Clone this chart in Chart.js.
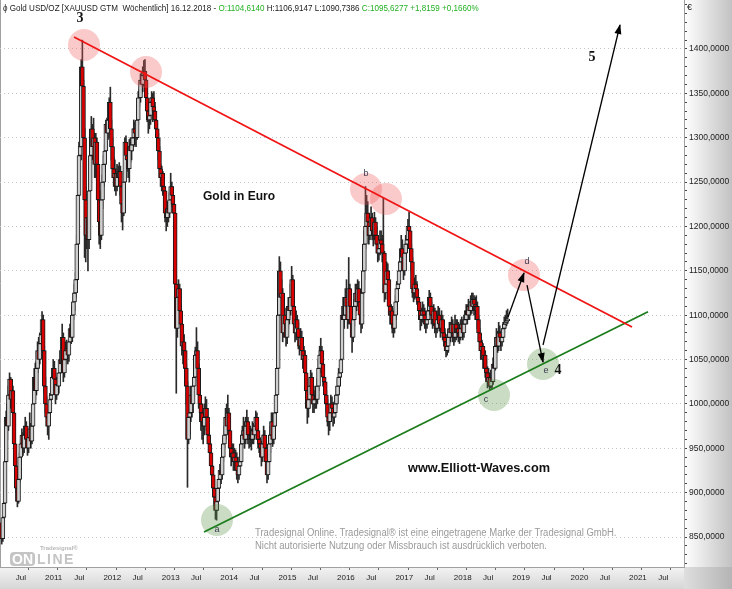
<!DOCTYPE html>
<html>
<head>
<meta charset="utf-8">
<title>Gold in Euro</title>
<script src="https://cdn.jsdelivr.net/npm/chart.js@4.4.1/dist/chart.umd.min.js"></script>
<style>
  body { margin: 0; background: #fff; }
  #wrap { position: relative; width: 732px; height: 589px; overflow: hidden; font-family: "Liberation Sans", Arial, sans-serif; }
  #chart { position: absolute; left: 0; top: 0; }
  .txt { position: absolute; white-space: nowrap; line-height: 1; }
  #title { left: 3px; top: 3px; font-size: 9.5px; color: #1a1a1a; transform: scaleX(0.85); transform-origin: 0 0; }
  #title .g { color: #22b022; }
  #euro { left: 687px; top: 3px; font-size: 9px; color: #222; }
  #gold { left: 203px; top: 190px; font-size: 12.5px; font-weight: bold; color: #111; transform: scaleX(0.96); transform-origin: 0 0; }
  #site { left: 408px; top: 461px; font-size: 13px; font-weight: bold; color: #111; transform: scaleX(0.98); transform-origin: 0 0; }
  #legal { left: 255px; top: 526px; font-size: 10px; color: #9a9a9a; line-height: 13px; transform: scaleX(0.95); transform-origin: 0 0; }
  #logo { left: 10px; top: 545px; width: 72px; height: 22px; }
  #logo .ts { position: absolute; left: 30px; top: 0; font-size: 6px; font-weight: bold; color: #b8b8b8; }
  #logo .on { position: absolute; left: 0; top: 7px; width: 25px; text-align: center; height: 14px; border-radius: 4px; background: #c4c4c4; color: #fff; font-size: 14px; font-weight: bold; line-height: 14px; }
  #logo .line { position: absolute; left: 27px; top: 7px; font-size: 14px; font-weight: bold; color: #c4c4c4; line-height: 14px; letter-spacing: 1.5px; }
</style>
</head>
<body>
<div id="wrap">
  <canvas id="chart" width="732" height="589"></canvas>
  <div class="txt" id="title">&#981; Gold USD/OZ [XAUUSD GTM&nbsp; W&ouml;chentlich] 16.12.2018 - <span class="g">O:1104,6140</span> H:1106,9147 L:1090,7386 <span class="g">C:1095,6277 +1,8159 +0,1660%</span></div>
  <div class="txt" id="euro">&euro;</div>
  <div class="txt" id="gold">Gold in Euro</div>
  <div class="txt" id="site">www.Elliott-Waves.com</div>
  <div class="txt" id="legal">Tradesignal Online. Tradesignal&reg; ist eine eingetragene Marke der Tradesignal GmbH.<br>Nicht autorisierte Nutzung oder Missbrauch ist ausdr&uuml;cklich verboten.</div>
  <div class="txt" id="logo"><span class="ts">Tradesignal&reg;</span><span class="on">ON</span><span class="line">LINE</span></div>
</div>
<script>
// weekly candles, first week starting 18.04.2010, one value per week (10 per line)
const firstWeek = Date.UTC(2010, 3, 18);
const firstOpen = 866;

const closes = [
  848, 872, 888, 935, 985, 975, 1010, 1028, 1005, 1015,
  990, 955, 930, 905, 890, 915, 940, 955, 965, 950,
  965, 975, 960, 950, 962, 972, 958, 975, 1000, 1030,
  1015, 1040, 1060, 1050, 1068, 1078, 1095, 1060, 1020, 1000,
  985, 975, 990, 1005, 1010, 1030, 1040, 1028, 1010, 1022,
  1020, 1035, 1050, 1045, 1075, 1035, 1050, 1060, 1062, 1055,
  1070, 1085, 1075, 1100, 1115, 1125, 1140, 1180, 1235, 1280,
  1290, 1380, 1358, 1300, 1230, 1190, 1210, 1185, 1240, 1280,
  1310, 1290, 1300, 1270, 1295, 1270, 1230, 1205, 1190, 1230,
  1250, 1270, 1285, 1315, 1305, 1320, 1340, 1310, 1290, 1265,
  1255, 1260, 1245, 1260, 1255, 1262, 1245, 1225, 1215, 1250,
  1295, 1280, 1275, 1265, 1290, 1285, 1292, 1300, 1310, 1305,
  1300, 1320, 1345, 1345, 1365, 1360, 1370, 1375, 1365, 1345,
  1330, 1320, 1325, 1340, 1345, 1335, 1330, 1320, 1310, 1300,
  1285, 1265, 1255, 1260, 1245, 1240, 1215, 1210, 1220, 1215,
  1230, 1245, 1235, 1225, 1215, 1135, 1085, 1120, 1130, 1105,
  1090, 1065, 1070, 1060, 1040, 1020, 960, 985, 990, 1010,
  1000, 1020, 1030, 1055, 1060, 1040, 1010, 1000, 990, 980,
  975, 985, 995, 985, 965, 955, 945, 930, 920, 905,
  895, 880, 890, 905, 915, 925, 920, 940, 955, 965,
  985, 975, 990, 970, 950, 940, 945, 935, 940, 935,
  925, 920, 930, 935, 955, 965, 970, 960, 975, 980,
  965, 960, 965, 960, 970, 965, 975, 985, 970, 960,
  955, 950, 940, 955, 965, 950, 935, 920, 935, 955,
  965, 980, 960, 975, 990, 1010, 1040, 1100, 1150, 1120,
  1125, 1080, 1100, 1090, 1075, 1095, 1110, 1105, 1120, 1140,
  1110, 1090, 1080, 1095, 1085, 1075, 1065, 1075, 1060, 1050,
  1055, 1035, 1015, 995, 1005, 1020, 1030, 1010, 1000, 1005,
  1010, 1005, 1020, 1040, 1055, 1060, 1045, 1030, 1025, 1010,
  1000, 985, 980, 990, 1000, 995, 985, 990, 1000, 1010,
  1020, 1030, 1035, 1050, 1100, 1095, 1100, 1120, 1110, 1095,
  1130, 1110, 1090, 1075, 1095, 1110, 1125, 1115, 1130, 1115,
  1100, 1090, 1125, 1150, 1180, 1200, 1215, 1205, 1190, 1200,
  1210, 1195, 1190, 1205, 1190, 1180, 1170, 1175, 1185, 1180,
  1170, 1170, 1125, 1135, 1150, 1140, 1110, 1100, 1105, 1090,
  1085, 1100, 1115, 1130, 1135, 1150, 1160, 1175, 1165, 1150,
  1170, 1180, 1185, 1200, 1195, 1175, 1160, 1130, 1125, 1135,
  1130, 1120, 1115, 1105, 1095, 1100, 1105, 1100, 1095, 1090,
  1095, 1105, 1120, 1110, 1100, 1095, 1105, 1090, 1085, 1095,
  1100, 1090, 1085, 1095, 1080, 1075, 1070, 1060, 1065, 1075,
  1085, 1080, 1090, 1080, 1075, 1090, 1080, 1085, 1080, 1075,
  1085, 1090, 1080, 1090, 1095, 1105, 1100, 1110, 1105, 1115,
  1110, 1118, 1112, 1105, 1110, 1095, 1080, 1070, 1060, 1065,
  1050, 1055, 1040, 1035, 1025, 1030, 1020, 1030, 1025, 1045,
  1040, 1065, 1075, 1065, 1080, 1075, 1070, 1075, 1085, 1090,
  1092, 1093.8, 1095.6
];

const highs = [
  868, 876, 892, 940, 992, 1000, 1020, 1035, 1030, 1025,
  1020, 995, 960, 935, 912, 920, 945, 960, 972, 968,
  975, 985, 980, 965, 970, 990, 978, 982, 1008, 1040,
  1046, 1048, 1070, 1075, 1080, 1090, 1104, 1100, 1065, 1030,
  1008, 995, 998, 1012, 1020, 1038, 1050, 1048, 1035, 1030,
  1032, 1042, 1060, 1058, 1090, 1080, 1058, 1070, 1072, 1068,
  1078, 1090, 1092, 1110, 1125, 1135, 1148, 1190, 1250, 1295,
  1330, 1388, 1410, 1365, 1310, 1245, 1225, 1220, 1250, 1290,
  1324, 1315, 1322, 1305, 1305, 1300, 1275, 1240, 1215, 1240,
  1258, 1280, 1292, 1320, 1322, 1330, 1345, 1357, 1320, 1300,
  1278, 1275, 1265, 1270, 1268, 1272, 1268, 1250, 1230, 1260,
  1300, 1302, 1292, 1285, 1298, 1300, 1300, 1310, 1320, 1318,
  1315, 1328, 1352, 1355, 1372, 1375, 1380, 1387, 1388, 1372,
  1352, 1338, 1335, 1345, 1352, 1350, 1352, 1340, 1328, 1318,
  1305, 1290, 1270, 1268, 1262, 1255, 1245, 1225, 1228, 1228,
  1238, 1260, 1250, 1245, 1235, 1220, 1140, 1130, 1140, 1135,
  1112, 1095, 1082, 1078, 1065, 1045, 1025, 995, 1000, 1020,
  1015, 1030, 1040, 1064, 1086, 1070, 1045, 1015, 1005, 1000,
  990, 1000, 1008, 1005, 995, 975, 965, 955, 940, 930,
  915, 905, 898, 912, 925, 932, 935, 948, 962, 975,
  995, 1000, 1010, 995, 978, 960, 955, 955, 950, 948,
  945, 935, 940, 945, 965, 975, 985, 980, 985, 993,
  985, 972, 975, 972, 980, 978, 985, 992, 990, 978,
  968, 962, 958, 965, 975, 970, 955, 940, 945, 965,
  975, 990, 990, 985, 1000, 1020, 1048, 1110, 1166, 1160,
  1140, 1130, 1112, 1108, 1095, 1105, 1120, 1118, 1135, 1155,
  1145, 1118, 1100, 1105, 1100, 1092, 1082, 1085, 1082, 1068,
  1065, 1060, 1040, 1020, 1012, 1030, 1038, 1035, 1018, 1015,
  1020, 1018, 1028, 1050, 1065, 1074, 1065, 1050, 1040, 1030,
  1015, 1005, 995, 1000, 1010, 1008, 1002, 1000, 1010, 1020,
  1028, 1040, 1045, 1058, 1110, 1120, 1110, 1130, 1140, 1120,
  1165, 1135, 1118, 1095, 1105, 1118, 1135, 1135, 1140, 1138,
  1125, 1108, 1135, 1160, 1195, 1245, 1235, 1228, 1215, 1210,
  1222, 1215, 1205, 1216, 1210, 1200, 1185, 1185, 1195, 1195,
  1190, 1232, 1172, 1145, 1160, 1158, 1150, 1118, 1112, 1110,
  1100, 1108, 1122, 1138, 1145, 1160, 1170, 1190, 1185, 1172,
  1180, 1190, 1195, 1208, 1216, 1200, 1180, 1165, 1140, 1142,
  1145, 1138, 1128, 1120, 1110, 1108, 1115, 1112, 1108, 1102,
  1105, 1112, 1128, 1125, 1115, 1108, 1112, 1108, 1098, 1105,
  1110, 1108, 1100, 1105, 1100, 1090, 1085, 1078, 1075, 1082,
  1092, 1092, 1098, 1095, 1088, 1100, 1095, 1095, 1092, 1090,
  1095, 1098, 1095, 1100, 1105, 1112, 1112, 1118, 1115, 1122,
  1125, 1125, 1122, 1120, 1122, 1115, 1100, 1085, 1078, 1072,
  1068, 1062, 1060, 1050, 1042, 1040, 1035, 1038, 1040, 1052,
  1055, 1075, 1085, 1082, 1092, 1088, 1082, 1085, 1092, 1098,
  1100, 1105, 1106.9
];

const lows = [
  842, 845, 866, 885, 930, 960, 970, 1000, 995, 1000,
  985, 948, 925, 900, 884, 888, 912, 935, 948, 942,
  945, 960, 952, 942, 945, 958, 950, 955, 970, 995,
  1005, 1010, 1035, 1040, 1045, 1060, 1070, 1050, 1012, 990,
  975, 965, 960, 985, 995, 1005, 1025, 1015, 1000, 1005,
  1010, 1012, 1030, 1035, 1040, 1025, 1030, 1045, 1050, 1045,
  1048, 1060, 1068, 1070, 1095, 1105, 1120, 1135, 1170, 1225,
  1240, 1275, 1345, 1290, 1165, 1160, 1175, 1150, 1175, 1230,
  1270, 1275, 1280, 1255, 1255, 1262, 1215, 1180, 1175, 1185,
  1220, 1245, 1262, 1280, 1290, 1298, 1310, 1300, 1275, 1255,
  1245, 1240, 1235, 1240, 1245, 1250, 1235, 1205, 1196, 1212,
  1245, 1265, 1262, 1255, 1250, 1272, 1275, 1285, 1290, 1292,
  1290, 1298, 1315, 1335, 1340, 1350, 1352, 1358, 1352, 1340,
  1318, 1305, 1310, 1315, 1330, 1318, 1320, 1310, 1300, 1290,
  1275, 1255, 1245, 1240, 1235, 1230, 1205, 1195, 1200, 1205,
  1210, 1222, 1225, 1215, 1205, 1130, 1012, 1075, 1100, 1095,
  1075, 1055, 1045, 1040, 1020, 1000, 906, 955, 965, 980,
  985, 990, 1010, 1025, 1045, 1030, 995, 980, 970, 960,
  955, 965, 975, 970, 955, 945, 935, 920, 910, 895,
  885, 870, 869, 880, 895, 905, 910, 915, 935, 950,
  960, 965, 970, 960, 945, 930, 935, 925, 925, 925,
  915, 911, 915, 920, 930, 950, 960, 950, 955, 965,
  955, 950, 952, 948, 955, 955, 960, 965, 960, 950,
  945, 940, 930, 935, 945, 940, 925, 911, 915, 930,
  945, 960, 952, 955, 970, 985, 1000, 1035, 1095, 1110,
  1105, 1070, 1075, 1078, 1065, 1068, 1085, 1090, 1100, 1110,
  1100, 1080, 1070, 1072, 1075, 1062, 1055, 1060, 1050, 1040,
  1042, 1025, 1005, 978, 985, 995, 1010, 1000, 990, 990,
  995, 995, 1000, 1015, 1035, 1045, 1035, 1020, 1015, 1000,
  990, 975, 965, 970, 980, 985, 975, 978, 985, 995,
  1000, 1010, 1020, 1030, 1050, 1085, 1085, 1095, 1100, 1085,
  1090, 1098, 1080, 1058, 1070, 1088, 1100, 1105, 1110, 1105,
  1090, 1080, 1085, 1120, 1140, 1175, 1190, 1190, 1180, 1185,
  1192, 1185, 1178, 1185, 1180, 1170, 1160, 1162, 1168, 1170,
  1160, 1150, 1115, 1118, 1128, 1130, 1100, 1090, 1090, 1080,
  1075, 1080, 1095, 1110, 1120, 1130, 1145, 1150, 1155, 1140,
  1145, 1165, 1172, 1180, 1185, 1165, 1150, 1120, 1115, 1118,
  1120, 1112, 1105, 1095, 1083, 1088, 1092, 1090, 1085, 1080,
  1085, 1090, 1100, 1100, 1090, 1085, 1088, 1080, 1075, 1080,
  1088, 1082, 1075, 1080, 1072, 1065, 1062, 1053, 1055, 1058,
  1068, 1070, 1075, 1070, 1066, 1070, 1072, 1075, 1070, 1068,
  1072, 1078, 1072, 1075, 1082, 1090, 1090, 1095, 1095, 1100,
  1102, 1105, 1100, 1095, 1098, 1085, 1070, 1060, 1050, 1052,
  1040, 1040, 1030, 1025, 1018, 1020, 1016, 1018, 1017, 1022,
  1032, 1038, 1062, 1058, 1060, 1065, 1060, 1065, 1070, 1080,
  1085, 1088, 1090.7
];

// time axis (decimal years) and its labels
const xMin = 2010.2637;
const xMax = 2021.976;
const axisTicks = [2010.5, 2011, 2011.5, 2012, 2012.5, 2013, 2013.5, 2014, 2014.5, 2015, 2015.5,
  2016, 2016.5, 2017, 2017.5, 2018, 2018.5, 2019, 2019.5, 2020, 2020.5, 2021, 2021.5];
const axisLabels = ['Jul', '2011', 'Jul', '2012', 'Jul', '2013', 'Jul', '2014', 'Jul', '2015', 'Jul',
  '2016', 'Jul', '2017', 'Jul', '2018', 'Jul', '2019', 'Jul', '2020', 'Jul', '2021', 'Jul'];
const yMin = 816.2;
const yMax = 1455.2;

// drawn analysis: trend lines, arrows, marker circles, wave labels  [year, price]
const resistanceLine = [[2011.531, 1413.5], [2021.086, 1086.7]];
const supportLine = [[2013.757, 855.6], [2021.360, 1103.8]];
const arrowUpToD = [[2018.963, 1097.9], [2019.236, 1147.5]];
const arrowDownToE = [[2019.288, 1134.0], [2019.562, 1047.2]];
const arrowWave5 = [[2019.562, 1066.4], [2020.880, 1427.0]];
const redMarks = [[2011.702, 1404.5], [2012.764, 1374.1], [2016.531, 1242.2], [2016.873, 1230.9], [2019.236, 1145.3]];
const greenMarks = [[2013.979, 869.2], [2018.723, 1010.0], [2019.562, 1045.0]];
const waveNames = ['3', '5', '4', 'a', 'b', 'c', 'd', 'e'];
const waveX = [2011.634, 2020.401, 2019.818, 2013.979, 2016.531, 2018.586, 2019.288, 2019.613];
const waveY = [1434.9, 1391.0, 1038.2, 859.0, 1260.2, 1004.4, 1161.0, 1037.1];

function toYear(ms) {
    const y = new Date(ms).getUTCFullYear();
    const a = Date.UTC(y, 0, 1), b = Date.UTC(y + 1, 0, 1);
    return y + (ms - a) / (b - a);
}

const weekX = closes.map((c, i) => toYear(firstWeek + i * 7 * 86400000));
const opens = closes.map((c, i) => i === 0 ? firstOpen : closes[i - 1]);
const pts = arr => arr.map(p => ({ x: p[0], y: p[1] }));

const panelPlugin = {
    id: 'panels',
    beforeDraw(chart) {
        const { ctx, chartArea: a, width, height } = chart;
        ctx.save();
        let g = ctx.createLinearGradient(a.right, 0, width, 0);
        g.addColorStop(0, '#ffffff');
        g.addColorStop(1, '#c2c2c2');
        ctx.fillStyle = g;
        ctx.fillRect(a.right, 0, width - a.right, a.bottom);
        g = ctx.createLinearGradient(0, a.bottom, 0, height);
        g.addColorStop(0, '#f3f3f3');
        g.addColorStop(1, '#d6d6d6');
        ctx.fillStyle = g;
        ctx.fillRect(0, a.bottom, a.right, height - a.bottom);
        g = ctx.createLinearGradient(a.right, 0, width, 0);
        g.addColorStop(0, '#dedede');
        g.addColorStop(1, '#b4b4b4');
        ctx.fillStyle = g;
        ctx.fillRect(a.right, a.bottom, width - a.right, height - a.bottom);
        ctx.strokeStyle = '#a0a0a0';
        ctx.lineWidth = 1;
        ctx.beginPath();
        ctx.moveTo(0.5, 0);
        ctx.lineTo(0.5, a.bottom);
        ctx.stroke();
        ctx.restore();
    }
};

const arrowPlugin = {
    id: 'arrowHeads',
    afterDatasetsDraw(chart) {
        const ctx = chart.ctx;
        chart.data.datasets.forEach((ds, i) => {
            if (!ds.arrow) return;
            const p = chart.getDatasetMeta(i).data;
            const a = p[p.length - 2], b = p[p.length - 1];
            const ang = Math.atan2(b.y - a.y, b.x - a.x);
            ctx.save();
            ctx.translate(b.x, b.y);
            ctx.rotate(ang);
            ctx.fillStyle = '#000';
            ctx.beginPath();
            ctx.moveTo(1, 0);
            ctx.lineTo(-9, -3.5);
            ctx.lineTo(-9, 3.5);
            ctx.closePath();
            ctx.fill();
            ctx.restore();
        });
    }
};

const wavePlugin = {
    id: 'waveLabels',
    afterDatasetsDraw(chart) {
        const { ctx, scales: { x, y } } = chart;
        ctx.save();
        ctx.textAlign = 'center';
        ctx.textBaseline = 'middle';
        waveNames.forEach((name, i) => {
            const big = /[0-9]/.test(name);
            ctx.font = big ? 'bold 14px "Liberation Serif", serif' : '9px "Liberation Sans", sans-serif';
            ctx.fillStyle = big ? '#111' : '#3a3a50';
            ctx.fillText(name, x.getPixelForValue(waveX[i]), y.getPixelForValue(waveY[i]));
        });
        ctx.restore();
    }
};

new Chart(document.getElementById('chart'), {
    type: 'bar',
    data: {
        datasets: [
            {
                type: 'line', data: pts(arrowUpToD), arrow: true,
                borderColor: '#000', borderWidth: 1.3, pointRadius: 0, order: 1
            },
            {
                type: 'line', data: pts(arrowDownToE), arrow: true,
                borderColor: '#000', borderWidth: 1.3, pointRadius: 0, order: 1
            },
            {
                type: 'line', data: pts(arrowWave5), arrow: true,
                borderColor: '#000', borderWidth: 1.3, pointRadius: 0, order: 1
            },
            {
                type: 'line', data: pts(resistanceLine),
                borderColor: '#f01414', borderWidth: 1.8, pointRadius: 0, order: 2
            },
            {
                type: 'line', data: pts(supportLine),
                borderColor: '#1b7d1b', borderWidth: 1.8, pointRadius: 0, order: 2
            },
            {
                type: 'bubble', data: redMarks.map(p => ({ x: p[0], y: p[1], r: 16 })),
                backgroundColor: 'rgba(240, 90, 90, 0.32)', borderWidth: 0, order: 3
            },
            {
                type: 'bubble', data: greenMarks.map(p => ({ x: p[0], y: p[1], r: 16 })),
                backgroundColor: 'rgba(90, 150, 70, 0.32)', borderWidth: 0, order: 3
            },
            {
                // candle bodies open -> close
                data: closes.map((c, i) => ({ x: weekX[i], y: [opens[i], c] })),
                backgroundColor: ctx => closes[ctx.dataIndex] >= opens[ctx.dataIndex] ? '#cfcfcf' : '#d80000',
                borderColor: '#1a1a1a',
                borderWidth: 1,
                borderSkipped: false,
                barThickness: 4,
                grouped: false,
                order: 4
            },
            {
                // wicks low -> high
                data: closes.map((c, i) => ({ x: weekX[i], y: [lows[i], highs[i]] })),
                backgroundColor: '#2a2a2a',
                borderWidth: 0,
                barThickness: 1,
                grouped: false,
                order: 5
            }
        ]
    },
    plugins: [panelPlugin, arrowPlugin, wavePlugin],
    options: {
        responsive: false,
        animation: false,
        devicePixelRatio: 1,
        layout: { padding: 0, autoPadding: false },
        plugins: {
            legend: { display: false },
            tooltip: { enabled: false }
        },
        scales: {
            x: {
                type: 'linear',
                position: 'bottom',
                min: xMin,
                max: xMax,
                offset: false,
                afterBuildTicks: s => { s.ticks = axisTicks.map(v => ({ value: v })); },
                afterFit: s => { s.height = 22; s.paddingLeft = 0; s.paddingRight = 0; },
                grid: { drawOnChartArea: false, tickLength: 3, color: '#666' },
                border: { color: '#a0a0a0' },
                ticks: {
                    autoSkip: false,
                    maxRotation: 0,
                    align: 'start',
                    labelOffset: 2,
                    padding: 3,
                    color: '#222',
                    font: { family: 'Liberation Sans', size: 8 },
                    callback: (v, i) => axisLabels[i]
                }
            },
            y: {
                type: 'linear',
                position: 'right',
                min: yMin,
                max: yMax,
                afterBuildTicks: s => {
                    const t = [];
                    for (let v = 820; v <= 1450; v += 10) t.push({ value: v });
                    s.ticks = t;
                },
                afterFit: s => { s.width = 48; s.paddingTop = 0; s.paddingBottom = 0; },
                grid: {
                    color: ctx => (ctx.tick && ctx.tick.value % 50 === 0 && ctx.tick.value >= 850 && ctx.tick.value <= 1400) ? '#c4c4c4' : 'rgba(0,0,0,0)',
                    tickColor: '#444',
                    tickLength: 3
                },
                border: { color: '#a0a0a0', dash: [1, 3] },
                ticks: {
                    autoSkip: false,
                    padding: 2,
                    color: '#222',
                    font: { family: 'Liberation Sans', size: 8.5 },
                    callback: v => (v % 50 === 0 && v >= 850 && v <= 1400) ? v.toFixed(4).replace('.', ',') : ''
                }
            }
        }
    }
});
</script>
</body>
</html>
